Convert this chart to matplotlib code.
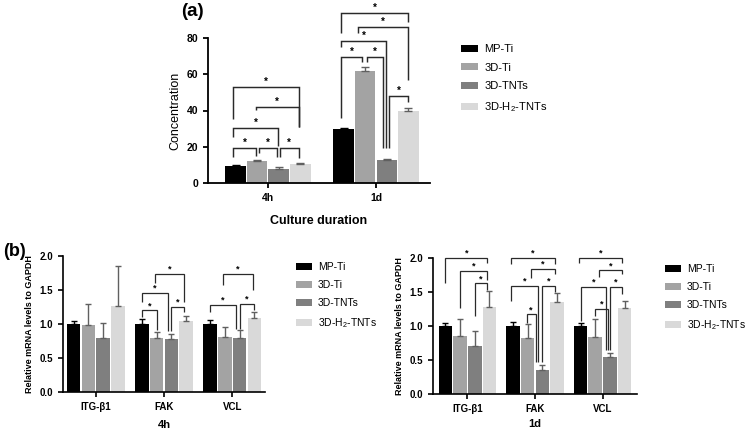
import numpy as np
import matplotlib
matplotlib.use("Agg")
import matplotlib.pyplot as plt

plt.rcParams['font.family'] = ['Liberation Sans', 'DejaVu Sans']
plt.rcParams['mathtext.default'] = 'regular'

# series
groups = ['MP-Ti', '3D-Ti', '3D-TNTs', '3D-H$_2$-TNTs']
colors = ['#000000', '#a3a3a3', '#7f7f7f', '#d9d9d9']
ecolors = ['#000000', '#606060', '#606060', '#606060']

# (a) concentration
durations = ['4h', '1d']
conc = [[9.6, 30.0], [12.0, 62.0], [7.8, 12.8], [10.5, 40.0]]
conc_err = [[0.3, 0.4], [0.5, 2.2], [0.9, 0.4], [0.5, 1.5]]

# (b) gene expression
genes = ['ITG-β1', 'FAK', 'VCL']
mrna_4h = [[1.00, 1.00, 1.00], [0.99, 0.79, 0.81], [0.80, 0.78, 0.80], [1.27, 1.05, 1.09]]
mrna_4h_err = [[0.04, 0.08, 0.06], [0.31, 0.09, 0.15], [0.22, 0.07, 0.11], [0.58, 0.07, 0.08]]
mrna_1d = [[1.00, 1.00, 1.00], [0.85, 0.83, 0.84], [0.71, 0.36, 0.54], [1.28, 1.36, 1.26]]
mrna_1d_err = [[0.04, 0.06, 0.05], [0.26, 0.20, 0.26], [0.22, 0.06, 0.06], [0.24, 0.12, 0.11]]

# significance brackets: (group, bar_i, bar_j, top, left_leg_end, right_leg_end, dx_left, dx_right)
sig_a = [
    (0, 0, 1, 19.1, 14.5, 15.0, -0.02, -0.015),
    (0, 1, 2, 19.1, 16.4, 14.5, 0.015, -0.02),
    (0, 2, 3, 19.1, 14.5, 14.0, 0.01, -0.015),
    (0, 0, 2, 30.2, 25.6, 20.5, -0.02, -0.01),
    (0, 1, 3, 41.8, 40.3, 31.0, -0.015, -0.015),
    (0, 0, 3, 52.8, 35.1, 31.0, -0.02, -0.015),
    (1, 0, 1, 69.3, 35.8, 66.5, -0.02, -0.03),
    (1, 1, 2, 69.3, 67.0, 19.3, 0.015, -0.035),
    (1, 0, 2, 78.5, 75.3, 19.3, -0.02, -0.01),
    (1, 1, 3, 85.9, 82.6, 56.8, -0.07, 0.0),
    (1, 0, 3, 93.6, 82.6, 89.1, -0.02, 0.0),
    (1, 2, 3, 48.2, 19.3, 44.9, 0.02, 0.0),
]
sig_4h = [
    (1, 0, 1, 1.20, 1.11, 0.91, 0.0, 0.0),
    (1, 0, 2, 1.46, 1.33, 0.89, 0.0, -0.05),
    (1, 1, 3, 1.74, 1.60, 1.33, -0.03, -0.025),
    (1, 2, 3, 1.25, 0.89, 1.18, 0.0, -0.025),
    (2, 0, 2, 1.28, 1.18, 0.93, 0.0, -0.06),
    (2, 2, 3, 1.30, 0.93, 1.20, 0.0, 0.0),
    (2, 1, 3, 1.74, 1.57, 1.50, -0.03, -0.02),
]
sig_1d = [
    (0, 0, 3, 2.00, 1.63, 1.92, 0.0, -0.035),
    (0, 1, 3, 1.81, 1.26, 1.68, 0.0, -0.035),
    (0, 2, 3, 1.63, 1.14, 1.53, 0.0, -0.04),
    (1, 0, 3, 2.00, 1.91, 1.91, -0.03, -0.03),
    (1, 1, 3, 1.84, 1.71, 1.77, 0.05, -0.03),
    (1, 0, 2, 1.59, 1.37, 0.47, -0.03, -0.06),
    (1, 2, 3, 1.59, 0.47, 1.50, -0.01, -0.03),
    (1, 1, 2, 1.17, 1.04, 0.47, -0.015, -0.10),
    (2, 0, 3, 2.00, 1.92, 1.92, -0.03, -0.03),
    (2, 1, 3, 1.82, 1.72, 1.77, 0.05, -0.03),
    (2, 0, 2, 1.58, 1.08, 0.64, 0.0, -0.06),
    (2, 2, 3, 1.58, 0.64, 1.47, 0.0, -0.03),
    (2, 1, 2, 1.25, 1.14, 0.64, 0.0, -0.025),
]


def draw_bars(ax, vals, errs, offsets, width, capsize):
    x = np.arange(len(vals[0]))
    for k in range(4):
        ax.bar(x + offsets[k], vals[k], width, color=colors[k], label=groups[k], zorder=2)
        ax.errorbar(x + offsets[k], vals[k], yerr=[np.zeros(len(errs[k])), errs[k]],
                    fmt='none', ecolor=ecolors[k], elinewidth=1, capsize=capsize,
                    capthick=1, zorder=3)


def draw_sig(ax, sigs, offsets, lw, fs):
    for g, i, j, top, yl, yr, dl, dr in sigs:
        xl = g + offsets[i] + dl
        xr = g + offsets[j] + dr
        ax.plot([xl, xl, xr, xr], [yl, top, top, yr], color='#2a2a2a', lw=lw,
                clip_on=False, solid_joinstyle='miter', solid_capstyle='butt', zorder=4)
        ax.annotate('*', ((xl + xr) / 2, top), xytext=(0, 1.5), textcoords='offset points',
                    ha='center', va='baseline', fontsize=fs, fontweight='bold',
                    annotation_clip=False)


def style(ax, lw):
    ax.spines['top'].set_visible(False)
    ax.spines['right'].set_visible(False)
    ax.spines['left'].set_linewidth(lw)
    ax.spines['bottom'].set_linewidth(lw)
    ax.tick_params(width=lw, length=3.5)
    for lab in ax.get_xticklabels() + ax.get_yticklabels():
        lab.set_fontweight('bold')


W, H = 748, 430
fig = plt.figure(figsize=(W / 100, H / 100), dpi=100)

# ---- (a) ----
off_a = [-0.3, -0.1, 0.1, 0.3]
axa = fig.add_axes([208 / W, (H - 183) / H, 222 / W, 145 / H])
draw_bars(axa, conc, conc_err, off_a, 0.19, 3)
axa.set_xlim(-0.555, 1.5)
axa.set_ylim(0, 80)
axa.set_yticks([0, 20, 40, 60, 80])
axa.set_xticks([0, 1])
axa.set_xticklabels(durations)
axa.tick_params(labelsize=7.5)
axa.set_ylabel('Concentration', fontsize=9, labelpad=4)
axa.set_xlabel('Culture duration', fontsize=9, fontweight='bold', labelpad=9)
style(axa, 1.3)
draw_sig(axa, sig_a, off_a, 1.05, 7)
fig.text(192 / W, 1 - 12 / H, '(a)', fontsize=13.5, fontweight='bold', ha='center', va='center')
fig.legend(*axa.get_legend_handles_labels(), loc='upper left',
           bbox_to_anchor=(461 / W, 1 - 44 / H), frameon=False, fontsize=8,
           handlelength=1.5, handleheight=0.6, handletextpad=0.6, labelspacing=0.78,
           borderpad=0, borderaxespad=0)

# ---- (b) ----
off_b = [-0.325, -0.108, 0.108, 0.325]
panels = [
    ([63 / W, 38 / H, 202 / W, 136 / H], (-0.48, 2.48), mrna_4h, mrna_4h_err, sig_4h, '4h',
     (296 / W, 1 - 262 / H), 6),
    ([433 / W, 36 / H, 204 / W, 136 / H], (-0.51, 2.51), mrna_1d, mrna_1d_err, sig_1d, '1d',
     (665 / W, 1 - 264 / H), 4),
]
for rect, xl, vals, errs, sigs, title, leg_pos, pad in panels:
    ax = fig.add_axes(rect)
    draw_bars(ax, vals, errs, off_b, 0.2, 2.5)
    ax.set_xlim(*xl)
    ax.set_ylim(0, 2.0)
    ax.set_yticks([0, 0.5, 1.0, 1.5, 2.0])
    ax.set_yticklabels(['0.0', '0.5', '1.0', '1.5', '2.0'])
    ax.set_xticks([0, 1, 2])
    ax.set_xticklabels(genes)
    ax.tick_params(labelsize=7)
    ax.set_ylabel('Relative mRNA levels to GAPDH', fontsize=6.5, fontweight='bold', labelpad=4)
    ax.set_xlabel(title, fontsize=8, fontweight='bold', labelpad=pad)
    style(ax, 1.2)
    draw_sig(ax, sigs, off_b, 0.9, 6.5)
    fig.legend(*ax.get_legend_handles_labels(), loc='upper left',
               bbox_to_anchor=leg_pos, frameon=False, fontsize=7.5,
               handlelength=1.5, handleheight=0.6, handletextpad=0.6, labelspacing=0.78,
               borderpad=0, borderaxespad=0)

fig.text(15 / W, 1 - 251 / H, '(b)', fontsize=13, fontweight='bold', ha='center', va='center')

fig.savefig('out.png', dpi=100)
